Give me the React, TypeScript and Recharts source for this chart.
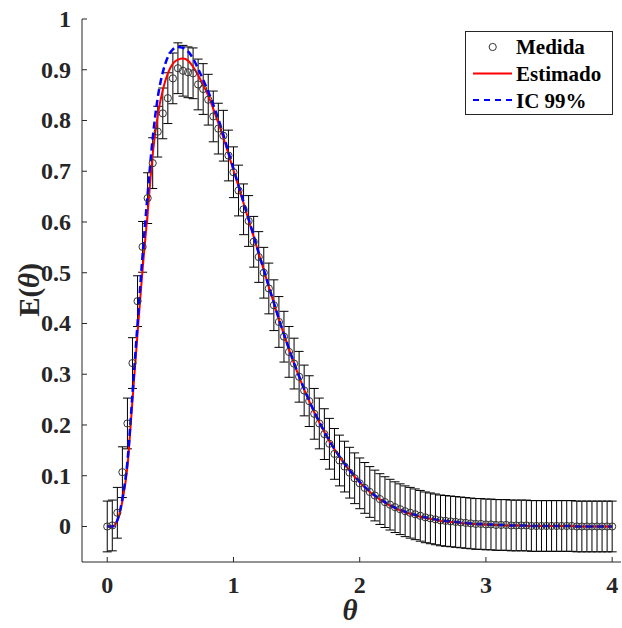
import { ComposedChart, Line, Scatter, ErrorBar, XAxis, YAxis, Label } from "recharts";

// theta grid (dimensionless time)
const theta = [
  0, 0.04, 0.08, 0.12, 0.16, 0.2, 0.24, 0.28, 0.32, 0.36,
  0.4, 0.44, 0.48, 0.52, 0.56, 0.6, 0.64, 0.68, 0.72, 0.76,
  0.8, 0.84, 0.88, 0.92, 0.96, 1.0, 1.04, 1.08, 1.12, 1.16,
  1.2, 1.24, 1.28, 1.32, 1.36, 1.4, 1.44, 1.48, 1.52, 1.56,
  1.6, 1.64, 1.68, 1.72, 1.76, 1.8, 1.84, 1.88, 1.92, 1.96,
  2.0, 2.04, 2.08, 2.12, 2.16, 2.2, 2.24, 2.28, 2.32, 2.36,
  2.4, 2.44, 2.48, 2.52, 2.56, 2.6, 2.64, 2.68, 2.72, 2.76,
  2.8, 2.84, 2.88, 2.92, 2.96, 3.0, 3.04, 3.08, 3.12, 3.16,
  3.2, 3.24, 3.28, 3.32, 3.36, 3.4, 3.44, 3.48, 3.52, 3.56,
  3.6, 3.64, 3.68, 3.72, 3.76, 3.8, 3.84, 3.88, 3.92, 3.96, 4.0,
];

const medida = [
  0, 0.002, 0.027, 0.107, 0.203, 0.322, 0.444, 0.551, 0.647, 0.716,
  0.778, 0.814, 0.844, 0.883, 0.903, 0.898, 0.895, 0.893, 0.871, 0.862,
  0.841, 0.808, 0.784, 0.77, 0.731, 0.698, 0.662, 0.625, 0.602, 0.561,
  0.531, 0.5, 0.469, 0.436, 0.403, 0.374, 0.344, 0.321, 0.295, 0.268,
  0.247, 0.222, 0.203, 0.182, 0.163, 0.143, 0.13, 0.118, 0.106, 0.095,
  0.085, 0.076, 0.068, 0.061, 0.054, 0.048, 0.043, 0.038, 0.034, 0.03,
  0.027, 0.024, 0.021, 0.018, 0.016, 0.014, 0.012, 0.011, 0.01, 0.009,
  0.008, 0.007, 0.006, 0.005, 0.005, 0.004, 0.004, 0.003, 0.003, 0.003,
  0.002, 0.002, 0.002, 0.002, 0.001, 0.001, 0.001, 0.001, 0.001, 0.001,
  0.001, 0.001, 0.001, 0, 0, 0, 0, 0, 0, 0, 0,
];

const estimado = [
  0, 0, 0.012, 0.05, 0.118, 0.249, 0.38, 0.507, 0.617, 0.733,
  0.81, 0.86, 0.893, 0.912, 0.92, 0.922, 0.918, 0.906, 0.889, 0.87,
  0.849, 0.823, 0.795, 0.766, 0.734, 0.702, 0.67, 0.637, 0.604, 0.571,
  0.538, 0.505, 0.472, 0.44, 0.408, 0.378, 0.349, 0.321, 0.295, 0.27,
  0.247, 0.225, 0.205, 0.186, 0.168, 0.152, 0.137, 0.123, 0.11, 0.098,
  0.087, 0.077, 0.068, 0.06, 0.053, 0.047, 0.041, 0.036, 0.032, 0.028,
  0.025, 0.022, 0.019, 0.017, 0.015, 0.013, 0.011, 0.01, 0.009, 0.008,
  0.007, 0.006, 0.005, 0.005, 0.004, 0.004, 0.003, 0.003, 0.003, 0.002,
  0.002, 0.002, 0.002, 0.001, 0.001, 0.001, 0.001, 0.001, 0.001, 0.001,
  0.001, 0.001, 0.001, 0, 0, 0, 0, 0, 0, 0, 0,
];

const ic99 = [
  0, 0, 0.012, 0.055, 0.128, 0.262, 0.4, 0.535, 0.655, 0.765,
  0.845, 0.895, 0.925, 0.94, 0.945, 0.943, 0.936, 0.922, 0.902, 0.88,
  0.857, 0.831, 0.803, 0.772, 0.738, 0.705, 0.672, 0.639, 0.606, 0.573,
  0.539, 0.506, 0.473, 0.441, 0.409, 0.379, 0.35, 0.322, 0.296, 0.271,
  0.248, 0.226, 0.206, 0.187, 0.169, 0.153, 0.138, 0.124, 0.111, 0.099,
  0.088, 0.078, 0.069, 0.061, 0.054, 0.048, 0.042, 0.037, 0.033, 0.029,
  0.026, 0.023, 0.02, 0.018, 0.016, 0.014, 0.012, 0.011, 0.01, 0.009,
  0.008, 0.007, 0.006, 0.005, 0.005, 0.004, 0.004, 0.003, 0.003, 0.003,
  0.002, 0.002, 0.002, 0.002, 0.001, 0.001, 0.001, 0.001, 0.001, 0.001,
  0.001, 0.001, 0.001, 0, 0, 0, 0, 0, 0, 0, 0,
];

const errorMedida = 0.05;

const xTicks = [0, 1, 2, 3, 4];
const yTicks = [0, 0.1, 0.2, 0.3, 0.4, 0.5, 0.6, 0.7, 0.8, 0.9, 1];

const data = theta.map((t, i) => ({
  theta: t,
  medida: medida[i],
  estimado: estimado[i],
  ic99: ic99[i],
  err: errorMedida,
}));

const AXIS = "#262626";
const FONT = '"Liberation Serif", "Times New Roman", serif';
const TICK_LEN = 5;

const BottomTick = (p: any) => (
  <g>
    <line x1={p.x} x2={p.x} y1={p.y} y2={p.y - TICK_LEN} stroke={AXIS} />
    <text x={p.x} y={p.y + 31} textAnchor="middle" fontFamily={FONT} fontWeight="bold" fontSize={24} fill={AXIS}>
      {p.payload.value}
    </text>
  </g>
);

const TopTick = (p: any) => (
  <line x1={p.x} x2={p.x} y1={p.y} y2={p.y + TICK_LEN} stroke={AXIS} />
);

const LeftTick = (p: any) => (
  <g>
    <line x1={p.x} x2={p.x + TICK_LEN} y1={p.y} y2={p.y} stroke={AXIS} />
    <text x={p.x - 11} y={p.y + 8} textAnchor="end" fontFamily={FONT} fontWeight="bold" fontSize={24} fill={AXIS}>
      {p.payload.value}
    </text>
  </g>
);

const RightTick = (p: any) => (
  <line x1={p.x} x2={p.x - TICK_LEN} y1={p.y} y2={p.y} stroke={AXIS} />
);

const Circle = (p: any) => (
  <circle cx={p.cx} cy={p.cy} r={3.6} fill="none" stroke="#333" strokeWidth={1} />
);

const Legend = () => (
  <svg
    width={150}
    height={86}
    style={{ position: "absolute", left: 465, top: 31 }}
  >
    <rect x={0.5} y={0.5} width={147} height={83} fill="#fff" stroke={AXIS} strokeWidth={1} />
    <circle cx={27.7} cy={16} r={3.6} fill="none" stroke="#333" />
    <line x1={8} x2={47} y1={42.5} y2={42.5} stroke="#ff0000" strokeWidth={2} />
    <line x1={8} x2={47} y1={69} y2={69} stroke="#0000ff" strokeWidth={2} strokeDasharray="6 5" />
    <g fontFamily={FONT} fontWeight="bold" fontSize={21} fill="#000">
      <text x={51} y={23}>Medida</text>
      <text x={51} y={50}>Estimado</text>
      <text x={51} y={76.5}>IC 99%</text>
    </g>
  </svg>
);

export default function App() {
  return (
    <div style={{ position: "absolute", left: 0, top: 0, width: 622, height: 628, background: "#fff" }}>
      <ComposedChart width={622} height={628} data={data} margin={{ top: 19, right: 1, bottom: 0, left: 0 }}>
        <XAxis
          dataKey="theta"
          type="number"
          domain={[-0.2, 4.07]}
          ticks={xTicks}
          allowDataOverflow
          height={66}
          tickSize={0}
          tickMargin={0}
          tick={BottomTick}
          stroke={AXIS}
          interval={0}
        >
          <Label
            content={() => (
              <text x={350} y={620} textAnchor="middle" fontFamily={FONT} fontWeight="bold" fontStyle="italic" fontSize={29} fill={AXIS}>
                θ
              </text>
            )}
          />
        </XAxis>
        <XAxis
          xAxisId="top"
          orientation="top"
          type="number"
          domain={[-0.2, 4.07]}
          ticks={xTicks}
          allowDataOverflow
          height={0}
          tickSize={0}
          tickMargin={0}
          tick={TopTick}
          stroke={AXIS}
          interval={0}
        />
        <YAxis
          type="number"
          domain={[-0.07, 1]}
          ticks={yTicks}
          allowDataOverflow
          width={82}
          tickSize={0}
          tickMargin={0}
          tick={LeftTick}
          stroke={AXIS}
          interval={0}
        >
          <Label
            content={() => (
              <text transform="translate(39,290) rotate(-90)" textAnchor="middle" fontFamily={FONT} fontWeight="bold" fontSize={29} fill={AXIS}>
                E(<tspan fontStyle="italic">θ</tspan>)
              </text>
            )}
          />
        </YAxis>
        <YAxis
          yAxisId="right"
          orientation="right"
          type="number"
          domain={[-0.07, 1]}
          ticks={yTicks}
          allowDataOverflow
          width={0}
          tickSize={0}
          tickMargin={0}
          tick={RightTick}
          stroke={AXIS}
          interval={0}
        />
        <Scatter dataKey="medida" shape={Circle} isAnimationActive={false}>
          <ErrorBar dataKey="err" direction="y" width={4.5} stroke="#000" strokeWidth={1} isAnimationActive={false} />
        </Scatter>
        <Line dataKey="estimado" type="monotone" stroke="#ff0000" strokeWidth={2} dot={false} activeDot={false} isAnimationActive={false} />
        <Line dataKey="ic99" type="monotone" stroke="#0000ff" strokeWidth={2.5} strokeDasharray="7 4" dot={false} activeDot={false} isAnimationActive={false} />
      </ComposedChart>
      <Legend />
    </div>
  );
}
